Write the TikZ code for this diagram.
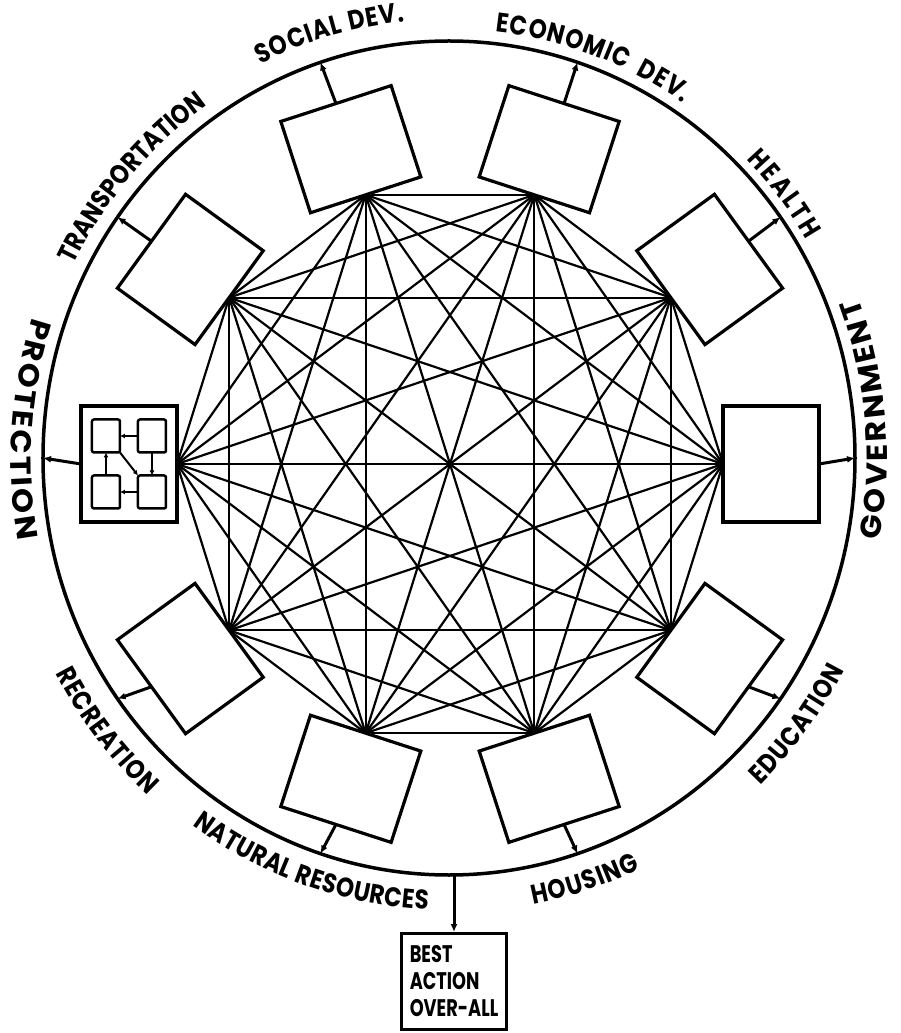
\documentclass[tikz,border=0pt]{standalone}
\usepackage{fontspec}
\setmainfont{Poppins}
\usepackage{tikz}
\usetikzlibrary{shapes.geometric,arrows.meta,decorations.text}
\newfontfamily\narrowfont[FakeStretch=0.74]{Poppins}
\newfontfamily\tallfont[FakeStretch=0.85]{Poppins}
\newfontfamily\widefont[FakeStretch=1.1]{Poppins}
\newcommand{\lblfont}{\tallfont\bfseries\fontsize{27}{27}\selectfont\kern1pt}
\newcommand{\sidefont}{\widefont\bfseries\fontsize{29}{29}\selectfont\kern2.5pt}
% labels over the upper arc: run clockwise, letters face out (#3 = gap to the ring)
\newcommand{\toplabel}[4][\lblfont]{%
  \pgfmathsetmacro{\lblstart}{#2+40}\pgfmathsetmacro{\lblend}{#2-40}%
  \pgfmathsetmacro{\lblrx}{406+#3}\pgfmathsetmacro{\lblry}{417+#3}%
  \pgfmathsetmacro{\lblsx}{\lblrx*cos(\lblstart)}\pgfmathsetmacro{\lblsy}{\lblry*sin(\lblstart)}%
  \path[decorate, decoration={text along path, text align=center, text={|#1|#4}}]
    (ring.center) ++(\lblsx,\lblsy) arc[start angle=\lblstart, end angle=\lblend, x radius=\lblrx, y radius=\lblry];}
% labels at the sides and below: run counter-clockwise, letters face in
\newcommand{\lowlabel}[4][\lblfont]{%
  \pgfmathsetmacro{\lblstart}{#2-40}\pgfmathsetmacro{\lblend}{#2+40}%
  \pgfmathsetmacro{\lblrx}{406+#3}\pgfmathsetmacro{\lblry}{417+#3}%
  \pgfmathsetmacro{\lblsx}{\lblrx*cos(\lblstart)}\pgfmathsetmacro{\lblsy}{\lblry*sin(\lblstart)}%
  \path[decorate, decoration={text along path, text align=center, text={|#1|#4}}]
    (ring.center) ++(\lblsx,\lblsy) arc[start angle=\lblstart, end angle=\lblend, x radius=\lblrx, y radius=\lblry];}

\begin{document}
\begin{tikzpicture}[
  x=1pt, y=1pt,
  unit/.style={draw, line width=3.2pt, minimum width=96pt, minimum height=116pt, inner sep=0pt, outer sep=0pt, anchor=west},
  mini/.style={draw, line width=2.5pt, rounded corners=2pt, minimum width=28pt, minimum height=33pt, inner sep=0pt, outer sep=0pt},
  link/.style={line width=2.2pt},
  outarrow/.style={-{Latex[length=8pt, width=7pt]}, line width=3pt},
  miniarrow/.style={-{Latex[length=5pt, width=5pt]}, line width=2pt}
]
\useasboundingbox (-450,-569) rectangle (450,464);

% outer ring
\node[draw, ellipse, line width=3.5pt, minimum width=812pt, minimum height=834pt, inner sep=0pt, outer sep=0pt] (ring) at (-1,6) {};

% the ten units
\foreach \a [count=\i] in {0,36,...,324}
  \node[unit, rotate=\a] (b\i) at (\a:273 and 283) {};

% every unit linked to every other
\foreach \i in {1,...,9} {
  \pgfmathtruncatemacro{\k}{\i+1}
  \foreach \j in {\k,...,10}
    \draw[link] (b\i.west) -- (b\j.west);
}

% outputs to the ring
\foreach \a [count=\i] in {0,36,...,324}
  \draw[outarrow] (b\i.east) -- (ring.\a);

% inside the protection unit
\begin{scope}[shift={(b6.center)}]
  \node[mini] (p1) at (-23,28) {};
  \node[mini] (p2) at (23,28) {};
  \node[mini] (p3) at (-23,-28) {};
  \node[mini] (p4) at (23,-28) {};
\end{scope}
\draw[miniarrow] (p2.west) -- (p1.east);
\draw[miniarrow] (p3.north) -- (p1.south);
\draw[miniarrow] (p2.south) -- (p4.north);
\draw[miniarrow] (p1.south east) -- (p4.north west);
\draw[miniarrow] (p4.west) -- (p3.east);

% labels round the ring
\lowlabel[\sidefont]{5}{32}{GOVERNMENT}
\toplabel[\lblfont\kern1.5pt]{38}{10}{HEALTH}
\toplabel{70}{12}{ECONOMIC{\ \ }DEV.}
\toplabel{106}{22}{SOCIAL DEV.}
\toplabel[\tallfont\bfseries\fontsize{27}{27}\selectfont]{139}{14}{TRANSPORTATION}
\lowlabel[\sidefont]{176}{32}{PROTECTION}
\lowlabel{218}{40}{RECREATION}
\lowlabel[\tallfont\bfseries\fontsize{27}{27}\selectfont\kern0.5pt]{251}{35}{NATURAL RESOURCES}
\lowlabel{288}{38}{HOUSING}
\lowlabel{323}{40}{EDUCATION}

% result
\node[draw, line width=2.5pt, minimum width=105pt, minimum height=96pt, anchor=north, align=left, inner sep=4pt,
  font=\narrowfont\bfseries\fontsize{24}{27}\selectfont] (best) at (4,-468) {BEST\\ACTION\\OVER-ALL};
\draw[outarrow] (best.north |- ring.south) -- (best.north);
\end{tikzpicture}
\end{document}
